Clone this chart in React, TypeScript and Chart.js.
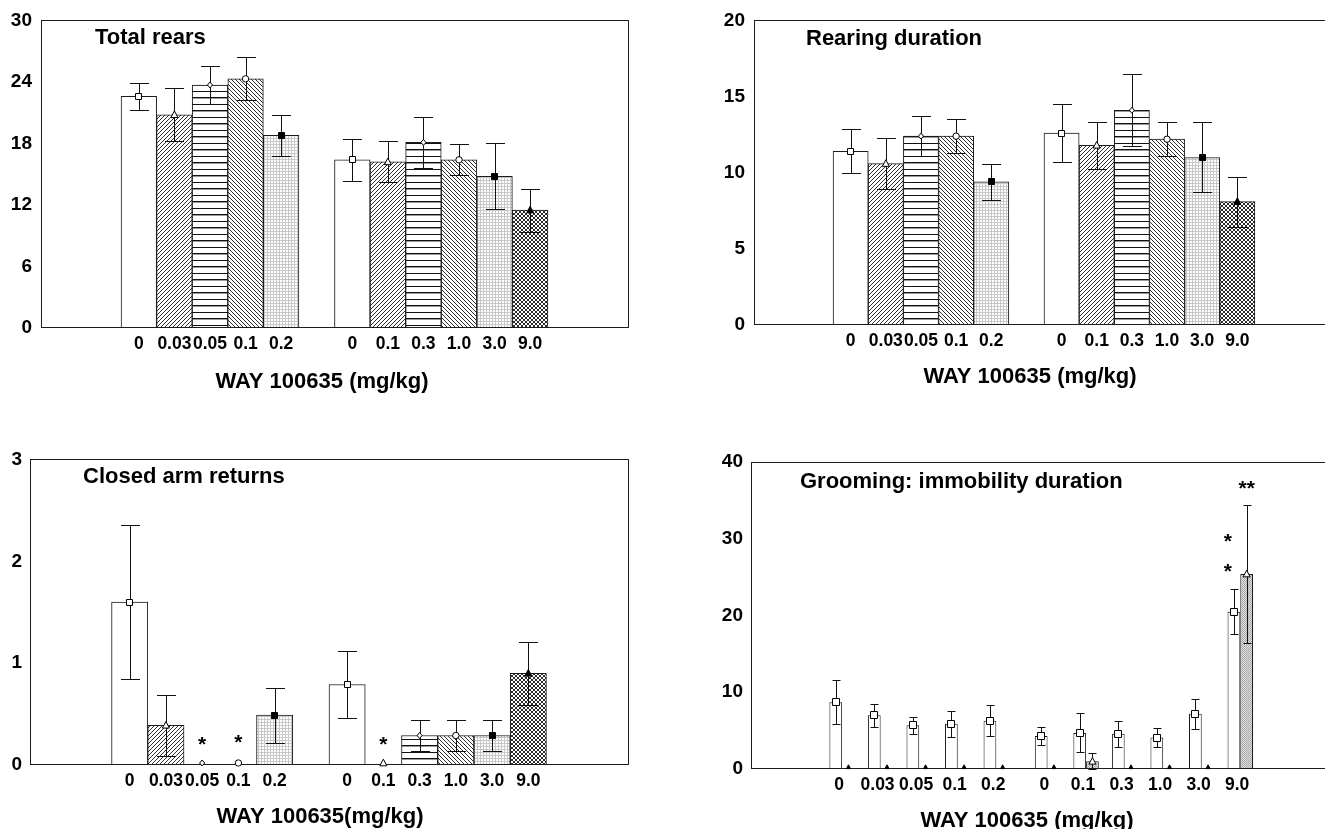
import React, { useEffect, useRef } from 'react';
import { Chart, registerables } from 'chart.js';

Chart.register(...registerables);

// ---------------- data ----------------
const doseLabels = ['0', '0.03', '0.05', '0.1', '0.2', '0', '0.1', '0.3', '1.0', '3.0', '9.0'];
const firstStudyCount = 5;

const totalRearsMean = [22.6, 20.8, 23.7, 24.3, 18.8, 16.4, 16.2, 18.1, 16.4, 14.8, 11.5];
const totalRearsSem = [1.3, 2.6, 1.9, 2.1, 2.0, 2.05, 2.0, 2.45, 1.5, 3.2, 2.1];

const rearingDurMean = [11.4, 10.6, 12.4, 12.4, 9.4, 12.6, 11.8, 14.1, 12.2, 11.0, 8.1];
const rearingDurSem = [1.45, 1.65, 1.3, 1.1, 1.2, 1.9, 1.55, 2.35, 1.1, 2.3, 1.65];

const closedArmMean = [1.6, 0.39, 0, 0, 0.49, 0.79, 0, 0.29, 0.29, 0.29, 0.9];
const closedArmSem = [0.76, 0.3, 0, 0, 0.27, 0.33, 0, 0.15, 0.15, 0.15, 0.31];

const groomingMean = [8.7, 7.0, 5.7, 5.9, 6.3, 4.3, 4.7, 4.6, 4.1, 7.2, 20.5];
const groomingSem = [2.85, 1.5, 1.1, 1.7, 2.05, 1.2, 2.55, 1.7, 1.2, 1.95, 2.9];
const immobilityMean = [0, 0, 0, 0, 0, 0, 1.0, 0, 0, 0, 25.4];
const immobilitySem = [0, 0, 0, 0, 0, 0, 1.05, 0, 0, 0, 9.0];

const closedArmStars = [
  { dataset: 0, index: 2, y: 0.26, text: '*' },
  { dataset: 0, index: 3, y: 0.27, text: '*' },
  { dataset: 0, index: 6, y: 0.26, text: '*' },
];
const groomingStars = [
  { dataset: 0, index: 10, y: 30.3, text: '*' },
  { dataset: 0, index: 10, y: 26.4, text: '*' },
  { dataset: 1, index: 10, y: 37.2, text: '**' },
];

// ---------------- styles ----------------
const FONT = '"Liberation Sans", Arial, Helvetica, sans-serif';
const singleFills = ['white', 'fwd', 'horiz', 'back', 'stipple', 'white', 'fwd', 'horiz', 'back', 'stipple', 'cross'];
const singleMarkers = ['square', 'triangle', 'diamond', 'circle', 'squareFilled', 'square', 'triangle', 'diamond', 'circle', 'squareFilled', 'triangleFilled'];

type Series = { label: string; values: number[]; errors: number[]; fills: string[]; markers: string[]; markerSize: number; capWidth: number };
type Star = { dataset: number; index: number; y: number; text: string };
type PanelSpec = {
  key: string;
  left: number; top: number; width: number; height: number;
  yAxisWidth: number; xAxisHeight: number; padTop: number; padRight: number;
  yMax: number; yStep: number; yPad: number;
  xMin: number; xMax: number; groupGap: number; categoryPercentage: number; labelShift: number;
  title: string; titleX: number; titleY: number;
  xTitle: string; xTitleX: number; xTitleY: number;
  series: Series[]; stars: Star[]; starDx: number[];
};

const panels: PanelSpec[] = [
  {
    key: 'rears', left: 0, top: 0, width: 632, height: 400,
    yAxisWidth: 41, xAxisHeight: 72, padTop: 20, padRight: 4,
    yMax: 30, yStep: 6, yPad: 9,
    xMin: -2, xMax: 13, groupGap: 1, categoryPercentage: 1, labelShift: 0,
    title: 'Total rears', titleX: 95, titleY: 44,
    xTitle: 'WAY 100635 (mg/kg)', xTitleX: 322, xTitleY: 388,
    series: [{ label: 'Total rears', values: totalRearsMean, errors: totalRearsSem, fills: singleFills, markers: singleMarkers, markerSize: 7, capWidth: 19 }],
    stars: [], starDx: [0, 0],
  },
  {
    key: 'duration', left: 700, top: 0, width: 640, height: 400,
    yAxisWidth: 54, xAxisHeight: 75, padTop: 18, padRight: 6,
    yMax: 20, yStep: 5, yPad: 9,
    xMin: -2, xMax: 13, groupGap: 1, categoryPercentage: 1, labelShift: 0,
    title: 'Rearing duration', titleX: 106, titleY: 45,
    xTitle: 'WAY 100635 (mg/kg)', xTitleX: 330, xTitleY: 383,
    series: [{ label: 'Rearing duration', values: rearingDurMean, errors: rearingDurSem, fills: singleFills, markers: singleMarkers, markerSize: 7, capWidth: 19 }],
    stars: [], starDx: [0, 0],
  },
  {
    key: 'closed', left: 0, top: 440, width: 632, height: 389,
    yAxisWidth: 30, xAxisHeight: 64, padTop: 18, padRight: 4,
    yMax: 3, yStep: 1, yPad: 8,
    xMin: -2, xMax: 13, groupGap: 1, categoryPercentage: 1, labelShift: 0,
    title: 'Closed arm returns', titleX: 83, titleY: 43,
    xTitle: 'WAY 100635(mg/kg)', xTitleX: 320, xTitleY: 383,
    series: [{ label: 'Closed arm returns', values: closedArmMean, errors: closedArmSem, fills: singleFills, markers: singleMarkers, markerSize: 7, capWidth: 19 }],
    stars: closedArmStars, starDx: [0, 0],
  },
  {
    key: 'grooming', left: 700, top: 440, width: 640, height: 389,
    yAxisWidth: 51, xAxisHeight: 60, padTop: 22, padRight: 9,
    yMax: 40, yStep: 10, yPad: 8,
    xMin: -1.68, xMax: 12.0, groupGap: 0.33, categoryPercentage: 0.66, labelShift: -0.08,
    title: 'Grooming: immobility duration', titleX: 100, titleY: 48,
    xTitle: 'WAY 100635 (mg/kg)', xTitleX: 327, xTitleY: 387,
    series: [
      { label: 'Grooming', values: groomingMean, errors: groomingSem, fills: groomingMean.map(() => 'white'), markers: groomingMean.map(() => 'square'), markerSize: 8, capWidth: 8 },
      { label: 'Immobility', values: immobilityMean, errors: immobilitySem, fills: immobilityMean.map(() => 'fine'), markers: immobilityMean.map((v) => (v > 0 ? 'triangle' : 'tiny')), markerSize: 7, capWidth: 8 },
    ],
    stars: groomingStars, starDx: [-6, 0],
  },
];

// ---------------- patterns ----------------
function makeFill(kind: string): CanvasPattern | string {
  if (kind === 'white') return '#ffffff';
  const c = document.createElement('canvas');
  const g = c.getContext('2d')!;
  const px = (x: number, y: number, col: string) => { g.fillStyle = col; g.fillRect(x, y, 1, 1); };
  if (kind === 'fwd' || kind === 'back') {
    const s = 4;
    c.width = s; c.height = s;
    g.fillStyle = '#fff'; g.fillRect(0, 0, s, s);
    for (let i = 0; i < s; i++) {
      const x = kind === 'fwd' ? s - 1 - i : i;
      px(x, i, '#333');
    }
  } else if (kind === 'horiz') {
    c.width = 4; c.height = 13;
    g.fillStyle = '#fff'; g.fillRect(0, 0, 4, 13);
    g.fillStyle = '#111'; g.fillRect(0, 0, 4, 1); g.fillRect(0, 6, 4, 1);
    g.fillStyle = '#999'; g.fillRect(0, 7, 4, 1);
  } else if (kind === 'stipple') {
    c.width = 3; c.height = 3;
    g.fillStyle = '#fff'; g.fillRect(0, 0, 3, 3);
    g.fillStyle = '#c8c8c8'; g.fillRect(0, 0, 3, 1); g.fillRect(0, 0, 1, 3);
  } else if (kind === 'fine') {
    c.width = 2; c.height = 2;
    g.fillStyle = '#e2e2e2'; g.fillRect(0, 0, 2, 2);
    px(0, 0, '#a0a0a0'); px(1, 1, '#aaaaaa');
  } else if (kind === 'cross') {
    c.width = 4; c.height = 4;
    g.fillStyle = '#fff'; g.fillRect(0, 0, 4, 4);
    for (let i = 0; i < 4; i++) { px(i, i, '#2a2a2a'); px(3 - i, i, '#2a2a2a'); }
  }
  const p = g.createPattern(c, 'repeat');
  return p || '#cccccc';
}

function drawMarker(ctx: CanvasRenderingContext2D, kind: string, x: number, y: number, size: number) {
  let s = size;
  if (kind === 'tiny') s = 4;
  if (kind === 'diamond') s = size - 1;
  const h = s / 2;
  ctx.beginPath();
  if (kind === 'square' || kind === 'squareFilled') {
    ctx.rect(Math.round(x - h) + 0.5, Math.round(y - h) + 0.5, Math.round(s) - 1, Math.round(s) - 1);
  } else if (kind === 'triangle' || kind === 'triangleFilled' || kind === 'tiny') {
    ctx.moveTo(x, y - h * 1.1);
    ctx.lineTo(x + h, y + h * 0.8);
    ctx.lineTo(x - h, y + h * 0.8);
    ctx.closePath();
  } else if (kind === 'diamond') {
    ctx.moveTo(x, y - h);
    ctx.lineTo(x + h * 0.85, y);
    ctx.lineTo(x, y + h);
    ctx.lineTo(x - h * 0.85, y);
    ctx.closePath();
  } else {
    ctx.arc(x, y, h - 0.3, 0, Math.PI * 2);
  }
  const filled = kind.endsWith('Filled') || kind === 'tiny';
  ctx.fillStyle = filled ? '#000' : '#fff';
  ctx.fill();
  ctx.lineWidth = 1;
  ctx.strokeStyle = '#000';
  ctx.stroke();
}

function makeOverlay(panel: PanelSpec) {
  return {
    id: 'overlay-' + panel.key,
    afterDatasetsDraw(chart: any) {
      const ctx: CanvasRenderingContext2D = chart.ctx;
      const a = chart.chartArea;
      const yScale = chart.scales.y;
      ctx.save();
      // frame
      ctx.strokeStyle = '#1c1c1c';
      ctx.lineWidth = 1;
      ctx.strokeRect(Math.round(a.left) + 0.5, Math.round(a.top) + 0.5, Math.round(a.right - a.left), Math.round(a.bottom - a.top) - 1);
      // error bars and markers
      panel.series.forEach((s, di) => {
        const meta = chart.getDatasetMeta(di);
        meta.data.forEach((el: any, i: number) => {
          const v = s.values[i];
          const e = s.errors[i];
          const x = Math.round(el.x) + 0.5;
          if (e > 0) {
            const yt = Math.round(yScale.getPixelForValue(v + e)) + 0.5;
            const yb = Math.round(yScale.getPixelForValue(Math.max(0, v - e))) + 0.5;
            const hw = s.capWidth / 2;
            ctx.strokeStyle = '#111';
            ctx.lineWidth = 1;
            ctx.beginPath();
            ctx.moveTo(x, yt); ctx.lineTo(x, yb);
            ctx.moveTo(x - hw, yt); ctx.lineTo(x + hw, yt);
            ctx.moveTo(x - hw, yb); ctx.lineTo(x + hw, yb);
            ctx.stroke();
          }
          const ym = yScale.getPixelForValue(v);
          drawMarker(ctx, s.markers[i], el.x, v === 0 ? ym - 2 : ym, s.markerSize);
        });
      });
      // significance stars
      ctx.fillStyle = '#000';
      ctx.font = `bold 21px ${FONT}`;
      ctx.textAlign = 'center';
      ctx.textBaseline = 'alphabetic';
      panel.stars.forEach((st) => {
        const el = chart.getDatasetMeta(st.dataset).data[st.index];
        const cy = yScale.getPixelForValue(st.y);
        ctx.fillText(st.text, el.x + panel.starDx[st.dataset], cy + 12);
      });
      // titles
      ctx.textAlign = 'left';
      ctx.font = `bold 22px ${FONT}`;
      ctx.fillText(panel.title, panel.titleX, panel.titleY);
      ctx.textAlign = 'center';
      ctx.font = `bold 22px ${FONT}`;
      ctx.fillText(panel.xTitle, panel.xTitleX, panel.xTitleY);
      ctx.restore();
    },
  };
}

function PanelChart({ panel }: { panel: PanelSpec }) {
  const ref = useRef<HTMLCanvasElement>(null);
  useEffect(() => {
    const canvas = ref.current;
    if (!canvas) return;
    const positions = doseLabels.map((_, i) => i + (i >= firstStudyCount ? panel.groupGap : 0));
    const yTickFont = { family: FONT, size: 19, weight: 'bold' as const };
    const xTickFont = { family: FONT, size: 17.5, weight: 'bold' as const };
    const chart = new Chart(canvas, {
      type: 'bar',
      data: {
        datasets: panel.series.map((s) => ({
          label: s.label,
          data: positions.map((x, i) => ({ x, y: s.values[i] })),
          backgroundColor: s.fills.map(makeFill) as any,
          borderColor: '#1a1a1a',
          borderWidth: 1,
          categoryPercentage: panel.categoryPercentage,
          barPercentage: 1,
        })),
      },
      options: {
        responsive: false,
        animation: false,
        devicePixelRatio: 1,
        events: [],
        layout: { padding: { top: panel.padTop, right: panel.padRight, left: 0, bottom: 0 } },
        plugins: { legend: { display: false }, tooltip: { enabled: false }, title: { display: false } },
        scales: {
          x: {
            type: 'linear',
            min: panel.xMin,
            max: panel.xMax,
            grid: { display: false, drawTicks: false },
            border: { display: false },
            afterBuildTicks: (scale: any) => {
              scale.ticks = positions.map((v) => ({ value: v + panel.labelShift }));
            },
            afterFit: (scale: any) => {
              scale.height = panel.xAxisHeight;
            },
            ticks: {
              autoSkip: false,
              maxRotation: 0,
              minRotation: 0,
              padding: 6,
              color: '#000',
              font: xTickFont,
              callback: (_v: any, i: number) => doseLabels[i],
            },
          },
          y: {
            min: 0,
            max: panel.yMax,
            grid: { display: false, drawTicks: false },
            border: { display: false },
            afterFit: (scale: any) => {
              scale.width = panel.yAxisWidth;
            },
            ticks: { stepSize: panel.yStep, padding: panel.yPad, color: '#000', font: yTickFont },
          },
        },
      } as any,
      plugins: [makeOverlay(panel)],
    });
    return () => chart.destroy();
  }, [panel]);
  return (
    <canvas
      ref={ref}
      width={panel.width}
      height={panel.height}
      style={{ position: 'absolute', left: panel.left, top: panel.top, width: panel.width, height: panel.height }}
    />
  );
}

export default function App() {
  return (
    <div style={{ position: 'fixed', left: 0, top: 0, width: 1325, height: 829, overflow: 'hidden', background: '#fff' }}>
      {panels.map((p) => (
        <PanelChart key={p.key} panel={p} />
      ))}
    </div>
  );
}
